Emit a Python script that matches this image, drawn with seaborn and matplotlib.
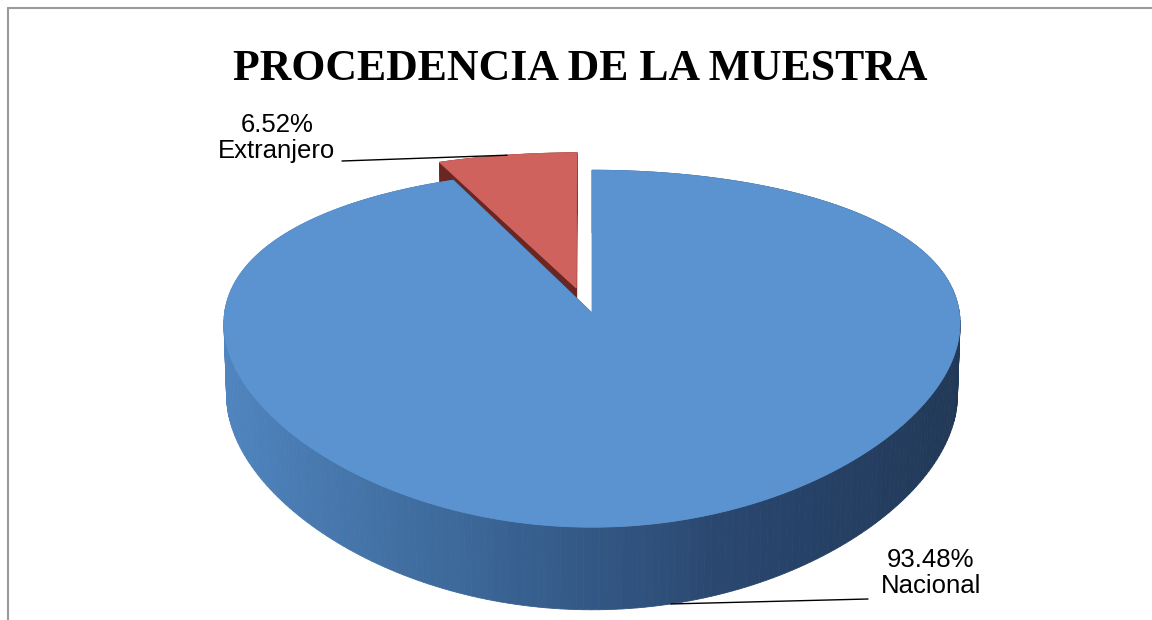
import numpy as np
import matplotlib
matplotlib.use("Agg")
import matplotlib.pyplot as plt
from matplotlib.patches import Polygon
import seaborn as sns

# ─────────────────────────────────────────────
# DATOS
# ─────────────────────────────────────────────
categorias = ["Nacional", "Extranjero"]
porcentajes = [93.48, 6.52]
etiquetas_pct = ["93.48%", "6.52%"]
titulo = "PROCEDENCIA DE LA MUESTRA"

# estilo / geometria (no son datos)
COLOR_TOP = {"Nacional": "#5B93D0", "Extranjero": "#D0625E"}
COLOR_RADIAL = {"Nacional": "#2E4E75", "Extranjero": "#6A2623"}
SIDE_PAL = {
    "Nacional": sns.blend_palette(["#5085BF", "#3C6899", "#2A4770", "#213856"], n_colors=96),
    "Extranjero": sns.blend_palette(["#B0504C", "#7A2C29"], n_colors=96),
}
EXPLODE = {"Nacional": 0.0, "Extranjero": 0.17}
LABEL_POS = {"Nacional": (931, 573), "Extranjero": (277, 138)}
LINE_END = {"Nacional": (868, 599), "Extranjero": (342, 161)}
ANCHOR_ON = {"Nacional": "bottom", "Extranjero": "top"}

CX, CY = 592, 313          # proyeccion del centro del pastel (px)
F, D = 1625, 4.423         # escala / distancia de camara
TILT = np.deg2rad(27.8)
XPERSP = 0.3               # perspectiva horizontal reducida (tipo Excel)
DEPTH = 0.225              # grosor del disco
S, C = np.sin(TILT), np.cos(TILT)


def proyectar(X, Y, Z):
    X, Y, Z = np.asarray(X, float), np.asarray(Y, float), np.asarray(Z, float)
    yp = Z * S + Y * C
    w = Z * C - Y * S
    sx = CX + X * F / (D + XPERSP * w)
    sy = CY - yp * F / (D + w)
    return sx, sy


def rebanadas():
    """Angulos (grados, antihorario) de cada rebanada empezando a las 12 en sentido horario."""
    total = sum(porcentajes)
    ini = 90.0
    out = []
    for cat, p in zip(categorias, porcentajes):
        fin = ini - 360.0 * p / total
        out.append((cat, ini, fin))
        ini = fin
    return out


def dibujar_rebanada(ax, cat, a0, a1):
    mid = np.deg2rad((a0 + a1) / 2)
    # desplazamiento un poco mas lateral que radial, como en Excel
    ox = EXPLODE[cat] * np.cos(mid) * 1.25
    oz = EXPLODE[cat] * np.sin(mid) * 0.9
    th = np.deg2rad(np.linspace(a0, a1, 300))
    xs, zs = ox + np.cos(th), oz + np.sin(th)

    # cara lateral exterior (de atras hacia delante)
    orden = np.argsort(-np.sin(th[:-1]))
    pal = SIDE_PAL[cat]
    for j in orden:
        tx, ty = proyectar(xs[j:j + 2], [0, 0], zs[j:j + 2])
        bx, by = proyectar(xs[j:j + 2], [-DEPTH] * 2, zs[j:j + 2])
        pts = np.column_stack([np.r_[tx, bx[::-1]], np.r_[ty, by[::-1]]])
        k = int((np.cos(th[j]) + 1) / 2 * (len(pal) - 1))
        ax.add_patch(Polygon(pts, closed=True, facecolor=pal[k],
                             edgecolor=pal[k], linewidth=0.6))

    # caras radiales
    for a in (a0, a1):
        t = np.deg2rad(a)
        X = [ox, ox + np.cos(t), ox + np.cos(t), ox]
        Y = [0, 0, -DEPTH, -DEPTH]
        Z = [oz, oz + np.sin(t), oz + np.sin(t), oz]
        px, py = proyectar(X, Y, Z)
        ax.add_patch(Polygon(np.column_stack([px, py]), closed=True,
                             facecolor=COLOR_RADIAL[cat],
                             edgecolor=COLOR_RADIAL[cat], linewidth=0.6))

    # cara superior
    px, py = proyectar(np.r_[ox, xs], np.zeros(len(xs) + 1), np.r_[oz, zs])
    ax.add_patch(Polygon(np.column_stack([px, py]), closed=True,
                         facecolor=COLOR_TOP[cat], edgecolor=COLOR_TOP[cat],
                         linewidth=0.6))

    # punto de anclaje de la etiqueta
    y_anc = 0.0 if ANCHOR_ON[cat] == "top" else -DEPTH
    return proyectar(ox + np.cos(mid), y_anc, oz + np.sin(mid))


sns.set_theme(style="white")
plt.rcParams["font.family"] = ["Liberation Sans", "DejaVu Sans"]
plt.rcParams["text.color"] = "black"

fig = plt.figure(figsize=(11.52, 6.2), dpi=100)
ax = fig.add_axes([0, 0, 1, 1])
ax.set_xlim(0, 1152)
ax.set_ylim(620, 0)
ax.axis("off")

# las rebanadas del fondo primero (la desplazada queda detras)
anclas = {}
for cat, a0, a1 in reversed(rebanadas()):
    anclas[cat] = dibujar_rebanada(ax, cat, a0, a1)

for cat, pct in zip(categorias, etiquetas_pct):
    ax_, ay_ = anclas[cat]
    lx, ly = LINE_END[cat]
    ax.plot([float(ax_), lx], [float(ay_), ly], color="black", lw=1.0)
    tx, ty = LABEL_POS[cat]
    ax.text(tx, ty, f"{pct}\n{cat}", ha="center", va="center",
            fontsize=18.5, color="black", linespacing=1.15)

ax.text(580, 80, titulo, ha="center", va="baseline", fontsize=31.5,
        fontweight="bold", color="black",
        family=["Liberation Serif", "DejaVu Serif"])

# marco gris
ax.plot([8, 1152], [8, 8], color="#9a9a9a", lw=1.5, clip_on=False)
ax.plot([8, 8], [8, 620], color="#9a9a9a", lw=1.5, clip_on=False)

fig.savefig("out.png", dpi=100)
plt.close(fig)
